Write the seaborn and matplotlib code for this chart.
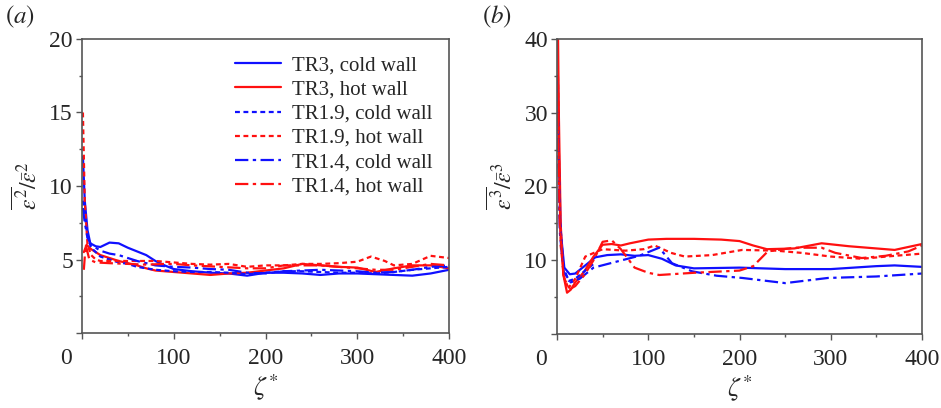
import numpy as np
import pandas as pd
import matplotlib
matplotlib.use("Agg")
import matplotlib.pyplot as plt
import seaborn as sns
from matplotlib.transforms import ScaledTranslation
from matplotlib.ticker import MultipleLocator

sns.set_theme(style="white")
plt.rcParams['font.family'] = ['Liberation Serif', 'DejaVu Serif']
plt.rcParams['mathtext.fontset'] = 'stix'

labels = ["TR3, cold wall", "TR3, hot wall", "TR1.9, cold wall",
          "TR1.9, hot wall", "TR1.4, cold wall", "TR1.4, hot wall"]
colors = ["#1010ff", "#ff1010", "#1010ff", "#ff1010", "#1010ff", "#ff1010"]
dashes = [None, None, (2.2, 1.6), (2.2, 1.6), (6, 2, 1.5, 2), (6, 2, 1.5, 2)]

# ---- panel (a) data ----
a_tr3_cold_x = [1, 3, 6, 9, 15, 20, 30, 40, 50, 60, 70, 80, 90, 100, 120, 140, 160, 180, 200, 220, 240, 260, 280, 300, 320, 340, 360, 380, 400]
a_tr3_cold_y = [12, 9, 7, 6.1, 5.9, 5.85, 6.15, 6.1, 5.8, 5.55, 5.3, 4.9, 4.6, 4.35, 4.2, 4.1, 4.05, 3.9, 4.1, 4.1, 4.05, 3.95, 4.05, 4.05, 4.0, 3.95, 3.9, 4.05, 4.3]
a_tr3_hot_x = [2, 5, 10, 20, 30, 40, 50, 60, 70, 80, 90, 100, 120, 140, 160, 180, 200, 220, 240, 260, 280, 300, 320, 340, 360, 380, 400]
a_tr3_hot_y = [5.5, 6.0, 5.7, 5.3, 5.1, 4.9, 4.75, 4.6, 4.4, 4.25, 4.2, 4.15, 4.05, 3.95, 4.05, 4.1, 4.25, 4.4, 4.7, 4.6, 4.5, 4.45, 4.15, 4.4, 4.6, 4.6, 4.4]
a_tr19_cold_x = [1, 3, 6, 10, 20, 30, 40, 50, 60, 70, 80, 100, 120, 140, 160, 180, 200, 220, 240, 260, 280, 300, 320, 340, 360, 380, 400]
a_tr19_cold_y = [9, 8, 6.5, 5.8, 5.2, 5.0, 4.8, 4.7, 4.5, 4.4, 4.3, 4.2, 4.15, 4.15, 4.1, 4.0, 4.1, 4.2, 4.2, 4.15, 4.1, 4.1, 4.05, 4.15, 4.3, 4.4, 4.5]
a_tr19_hot_x = [1, 3, 6, 10, 15, 20, 50, 80, 100, 120, 140, 160, 180, 200, 220, 240, 260, 280, 300, 315, 330, 340, 360, 380, 400]
a_tr19_hot_y = [15, 9, 6, 5.3, 5.0, 4.9, 4.9, 4.9, 4.8, 4.7, 4.65, 4.7, 4.5, 4.6, 4.6, 4.7, 4.7, 4.75, 4.85, 5.2, 4.9, 4.6, 4.7, 5.25, 5.1]
a_tr14_cold_x = [1, 3, 6, 10, 20, 30, 40, 50, 60, 70, 80, 100, 120, 140, 160, 180, 200, 220, 240, 260, 280, 300, 320, 340, 360, 380, 400]
a_tr14_cold_y = [8.5, 7.5, 6.5, 6.0, 5.6, 5.4, 5.3, 5.1, 4.9, 4.75, 4.6, 4.5, 4.45, 4.35, 4.3, 4.1, 4.05, 4.2, 4.25, 4.3, 4.25, 4.2, 4.1, 4.15, 4.3, 4.5, 4.6]
a_tr14_hot_x = [2, 4, 8, 15, 30, 50, 70, 90, 100, 120, 150, 180, 200, 220, 240, 260, 280, 300, 320, 340, 360, 380, 400]
a_tr14_hot_y = [4.3, 6.0, 5.0, 4.8, 4.75, 4.7, 4.65, 4.7, 4.7, 4.6, 4.5, 4.4, 4.4, 4.6, 4.6, 4.6, 4.5, 4.4, 4.3, 4.3, 4.5, 4.7, 4.6]

# ---- panel (b) data ----
b_tr3_cold_x = [1, 2, 4, 8, 14, 20, 30, 42, 55, 70, 85, 100, 115, 130, 150, 200, 250, 300, 350, 370, 400]
b_tr3_cold_y = [35, 25, 14, 9, 8.1, 8.2, 9.2, 10.4, 10.7, 10.8, 10.6, 10.7, 10.2, 9.3, 8.9, 9.0, 8.8, 8.8, 9.2, 9.3, 9.1]
b_tr3_hot_x = [1, 2, 4, 7, 11, 15, 20, 30, 40, 50, 60, 70, 80, 100, 120, 150, 180, 200, 215, 230, 260, 290, 320, 350, 370, 400]
b_tr3_hot_y = [42, 30, 15, 8, 5.6, 6.0, 7.0, 8.5, 10.5, 12.1, 12.2, 12.0, 12.3, 12.8, 12.9, 12.9, 12.8, 12.6, 12.0, 11.5, 11.6, 12.3, 11.9, 11.6, 11.4, 12.2]
b_tr19_cold_x = [1, 3, 7, 13, 20, 30, 40]
b_tr19_cold_y = [30, 16, 9, 7.2, 7.5, 8.5, 9.5]
b_tr19_hot_x = [1, 2, 4, 8, 13, 20, 31, 50, 75, 95, 107, 125, 140, 170, 203, 240, 268, 300, 334, 370, 400]
b_tr19_hot_y = [35, 25, 12, 7.5, 6.3, 7.5, 10.5, 11.5, 11.3, 11.5, 12.0, 11.0, 10.5, 10.7, 11.4, 11.3, 11.0, 10.5, 10.2, 10.6, 10.9]
b_tr14_cold_x = [1, 3, 7, 15, 25, 40, 68, 90, 112, 126, 148, 175, 203, 250, 297, 350, 400]
b_tr14_cold_y = [30, 14, 8.5, 7.0, 7.5, 9.0, 9.9, 10.6, 11.7, 9.6, 8.5, 7.9, 7.6, 6.9, 7.6, 7.8, 8.2]
b_tr14_hot_x = [1, 3, 7, 13, 20, 30, 40, 50, 60, 70, 85, 100, 112, 150, 200, 215, 231, 260, 290, 305, 334, 360, 385, 400]
b_tr14_hot_y = [30, 15, 8, 6.0, 6.5, 8, 10, 12.5, 12.7, 11.5, 9.0, 8.3, 8.0, 8.3, 8.6, 9.2, 11.2, 11.7, 11.7, 11.0, 10.3, 10.6, 11.2, 12.0]

series_a = [(a_tr3_cold_x, a_tr3_cold_y), (a_tr3_hot_x, a_tr3_hot_y),
            (a_tr19_cold_x, a_tr19_cold_y), (a_tr19_hot_x, a_tr19_hot_y),
            (a_tr14_cold_x, a_tr14_cold_y), (a_tr14_hot_x, a_tr14_hot_y)]
series_b = [(b_tr3_cold_x, b_tr3_cold_y), (b_tr3_hot_x, b_tr3_hot_y),
            (b_tr19_cold_x, b_tr19_cold_y), (b_tr19_hot_x, b_tr19_hot_y),
            (b_tr14_cold_x, b_tr14_cold_y), (b_tr14_hot_x, b_tr14_hot_y)]

fig = plt.figure(figsize=(9.41, 4.08), dpi=100)
ax1 = fig.add_axes([82/941, 1-333/408, (449-82)/941, (333-39)/408])
ax2 = fig.add_axes([557/941, 1-334/408, (922-557)/941, (334-39)/408])

spine_col = "#555555"

def draw(ax, series, ymax, ystep, ylabel):
    for (xs, ys), lab, c, d in zip(series, labels, colors, dashes):
        df = pd.DataFrame({"x": xs, "y": ys})
        sns.lineplot(data=df, x="x", y="y", ax=ax, color=c, linewidth=1.6,
                     label=lab, sort=False)
        line = ax.get_lines()[-1]
        if d is not None:
            line.set_dashes(d)
    ax.set_xlim(0, 400)
    ax.set_ylim(0, ymax)
    ax.set_xticks([0, 100, 200, 300, 400])
    ax.set_xticklabels(["0", "100", "200", "300", "400"])
    yt = [ystep * i for i in range(0, 5)]
    ax.set_yticks(yt)
    ax.set_yticklabels([""] + [str(int(v)) for v in yt[1:]])
    ax.xaxis.set_minor_locator(MultipleLocator(50))
    ax.yaxis.set_minor_locator(MultipleLocator(ystep / 2))
    ax.tick_params(axis="both", which="major", direction="out", length=4.5,
                   width=1.0, color=spine_col, labelsize=17, pad=6,
                   bottom=True, left=True, top=False, right=False)
    ax.tick_params(axis="both", which="minor", direction="out", length=2.2,
                   width=1.0, color=spine_col, bottom=True, left=True)
    ax.tick_params(axis="y", which="major", pad=2)
    for s in ax.spines.values():
        s.set_color(spine_col)
        s.set_linewidth(1.2)
    ax.set_xlabel(r"$\zeta^{*}$", fontsize=19, labelpad=3)
    ax.set_ylabel(ylabel, fontsize=17, labelpad=5)
    lab0 = ax.get_xticklabels()[0]
    lab0.set_transform(lab0.get_transform() + ScaledTranslation(-0.16, 0, fig.dpi_scale_trans))
    ax.grid(False)

draw(ax1, series_a, 20, 5, r"$\overline{\varepsilon^{2}}/\bar{\varepsilon}^{2}$")
draw(ax2, series_b, 40, 10, r"$\overline{\varepsilon^{3}}/\bar{\varepsilon}^{3}$")

ax1.legend(loc="upper right", bbox_to_anchor=(0.99, 0.985), frameon=False,
           fontsize=15, handlelength=2.2, handletextpad=0.55, labelspacing=0.22,
           borderaxespad=0.2)
ax2.get_legend().remove()

fig.text(5/941, 1-17/408, r"$(a)$", fontsize=18, va="center", ha="left")
fig.text(482/941, 1-17/408, r"$(b)$", fontsize=18, va="center", ha="left")

fig.savefig("out.png", dpi=100)
